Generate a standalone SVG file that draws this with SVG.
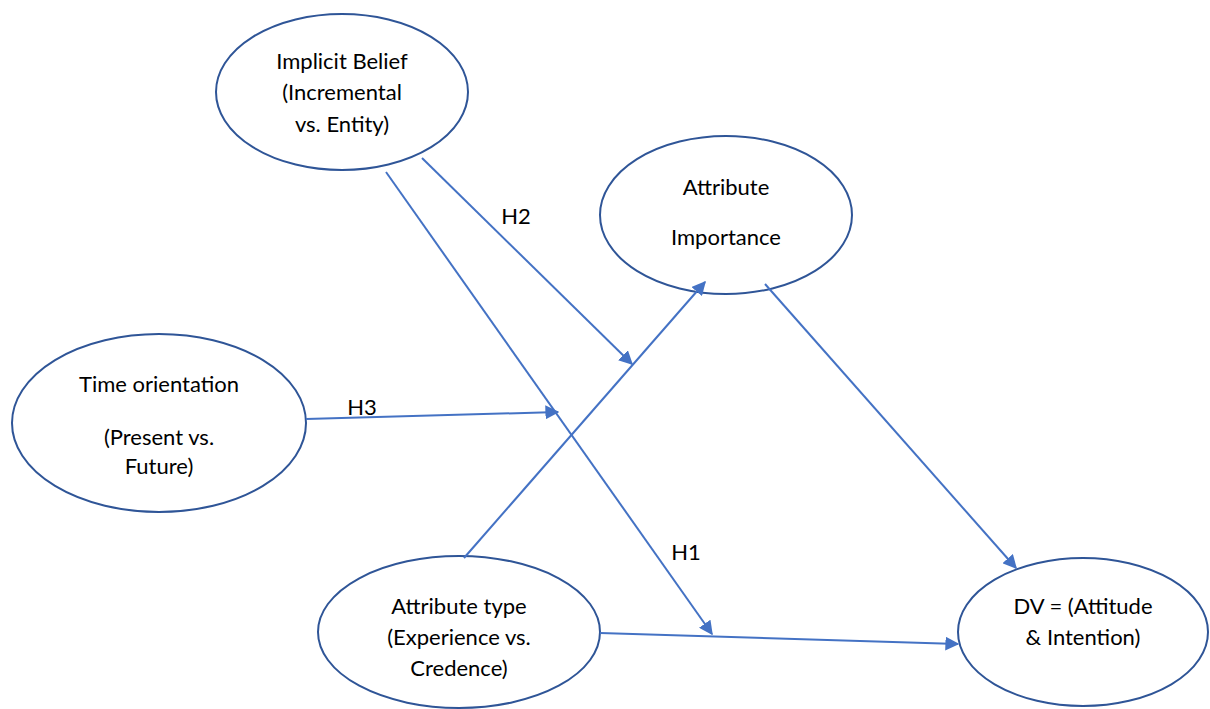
<svg xmlns="http://www.w3.org/2000/svg" width="1210" height="709" viewBox="0 0 1210 709">
<style>
.node ellipse{fill:#fff;stroke:#2F5597;stroke-width:2}
.node text,.lbl{font-family:Lato,"Open Sans","Liberation Sans",sans-serif;font-size:22px;fill:#000;text-anchor:middle}
.conn line{stroke:#4472C4;stroke-width:2;marker-end:url(#ah)}
</style>
<defs>
<marker id="ah" viewBox="0 0 10 10" refX="9" refY="5" markerWidth="7" markerHeight="7" markerUnits="strokeWidth" orient="auto">
<path d="M0,0 L10,5 L0,10 z" fill="#4472C4"/>
</marker>
</defs>
<rect width="1210" height="709" fill="#fff"/>
<g id="n-belief" class="node">
<ellipse cx="342" cy="92" rx="126" ry="78"/>
<text x="342" y="69">Implicit Belief</text>
<text x="342" y="100">(Incremental</text>
<text x="342" y="132">vs. Entity)</text>
</g>
<g id="n-importance" class="node">
<ellipse cx="726" cy="215" rx="126" ry="79"/>
<text x="726" y="195">Attribute</text>
<text x="726" y="245">Importance</text>
</g>
<g id="n-time" class="node">
<ellipse cx="159" cy="423" rx="147" ry="89"/>
<text x="159" y="392">Time orientation</text>
<text x="159" y="445">(Present vs.</text>
<text x="159" y="474">Future)</text>
</g>
<g id="n-type" class="node">
<ellipse cx="459" cy="632" rx="141" ry="76"/>
<text x="459" y="614">Attribute type</text>
<text x="459" y="645">(Experience vs.</text>
<text x="459" y="676">Credence)</text>
</g>
<g id="n-dv" class="node">
<ellipse cx="1083" cy="632" rx="125" ry="74"/>
<text x="1083" y="614">DV = (Attitude</text>
<text x="1083" y="645">&amp; Intention)</text>
</g>
<g id="connectors" class="conn">
<line x1="422" y1="158" x2="632" y2="364"/>
<line x1="386" y1="172" x2="712" y2="634"/>
<line x1="306" y1="419" x2="558" y2="412"/>
<line x1="464" y1="558" x2="705" y2="282"/>
<line x1="765" y1="284" x2="1016" y2="568"/>
<line x1="600" y1="633" x2="958" y2="644"/>
</g>
<g id="labels">
<text class="lbl" x="516" y="224">H2</text>
<text class="lbl" x="362" y="415">H3</text>
<text class="lbl" x="686" y="560">H1</text>
</g>
</svg>
